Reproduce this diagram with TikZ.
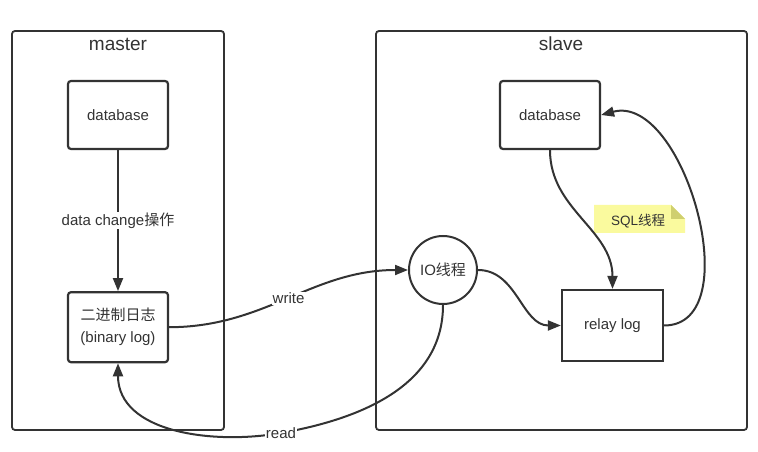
\documentclass[tikz,border=0pt]{standalone}
\usepackage{fontspec}
\setmainfont{Liberation Sans}
\newfontfamily\cjk{Noto Sans CJK SC}
\usetikzlibrary{arrows.meta,positioning}
\definecolor{linegray}{HTML}{333333}
\definecolor{noteyellow}{HTML}{FAFA9E}
\definecolor{notefold}{HTML}{CFCF70}
\tikzset{
    %Define standard arrow tip
    >={Triangle[length=13pt,width=10pt]},
    %Define style for the two frames
    frame/.style={
           rectangle,
           draw=linegray,
           line width=1.8pt,
           rounded corners=3pt},
    %Define style for boxes
    block/.style={
           rectangle,
           draw=linegray,
           line width=2.2pt,
           rounded corners=3pt,
           minimum width=100pt,
           minimum height=68pt,
           font=\fontsize{15}{22}\selectfont,
           text=linegray,
           align=center},
    % Define arrow style
    arrow/.style={
           ->,
           draw=linegray,
           line width=2pt,
           },
    % Define style for labels on arrows
    tag/.style={
           anchor=center,
           fill=white,
           inner sep=1pt,
           text=linegray,
           font=\fontsize{15}{18}\selectfont}
}
\begin{document}
\begin{tikzpicture}[x=1pt, y=1pt]
    \useasboundingbox (0,0) rectangle (758,452);
    \draw[frame] (12,22) rectangle (224,421);
    \draw[frame] (376,22) rectangle (747,421);
    \node [text=linegray, font=\fontsize{19}{22}\selectfont] (master) at (118,408) {master};
    \node [text=linegray, font=\fontsize{19}{22}\selectfont] (slave) at (561,408) {slave};

    \node [block] (MDB) at (118,337) {database};
    \node [block, below=141pt of MDB, minimum height=70pt] (BINLOG) {{\cjk 二进制日志}\\(binary log)};
    \node [block] (SDB) at (550,337) {database};
    \node [block, rounded corners=0pt, minimum width=101pt, minimum height=71pt] (RELAY) at (612.5,126.5) {relay log};
    \node [block, circle, line width=2pt, minimum size=68pt, inner sep=0pt] (IO) at (443,182) {IO{\cjk 线程}};
    \coordinate (READ) at (281,19);

    % note beside the SQL thread
    \fill[noteyellow] (594,219) -- (685,219) -- (685,233) -- (671,247) -- (594,247) -- cycle;
    \fill[notefold] (671,247) -- (671,233) -- (685,233) -- cycle;
    \node [text=linegray, font=\fontsize{13.5}{16}\selectfont] (NOTE) at (638,231) {SQL{\cjk 线程}};

    \path (MDB) edge[arrow] node[tag] {data change{\cjk 操作}} (BINLOG);
    \draw[arrow] (BINLOG.east) to[out=0, in=180] node[tag] {write} (IO.west);
    \draw[arrow] (IO.south) to[out=-90, in=10] (READ) node[tag] {read}
        to[out=190, in=-90] (BINLOG.south);
    \draw[arrow] (IO.east) to[out=0, in=180] (RELAY.west);
    \draw[arrow] (SDB.south) to[out=-90, in=90] (RELAY.north);
    \draw[arrow] (RELAY.east) to[out=0, in=15] (SDB.east);
\end{tikzpicture}
\end{document}
